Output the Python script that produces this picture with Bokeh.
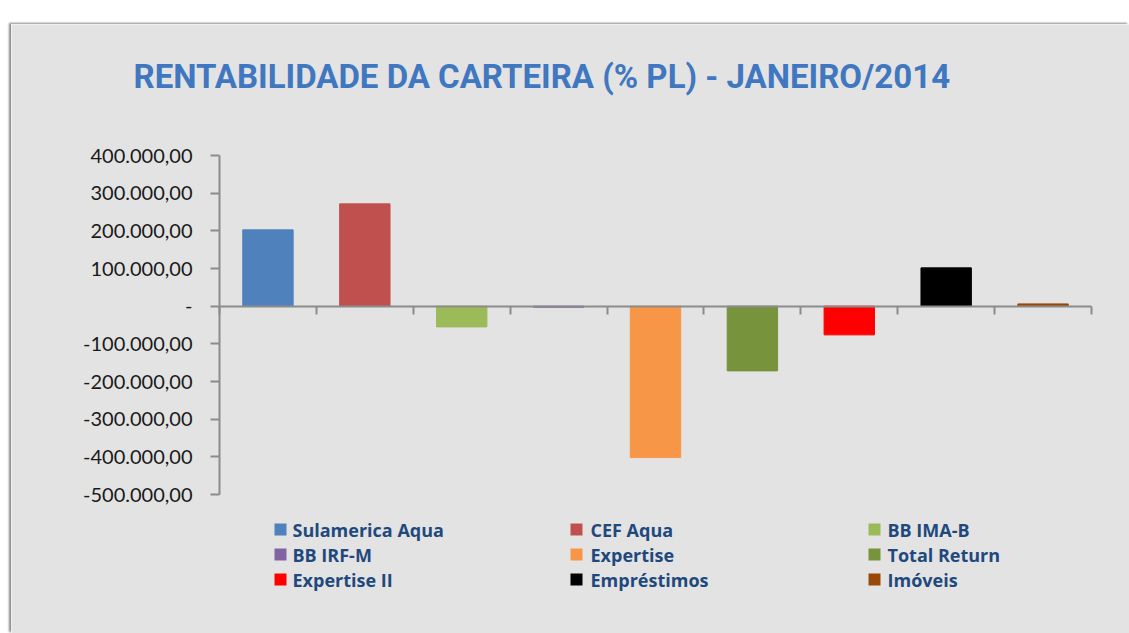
from bokeh.plotting import figure
from bokeh.models import (Range1d, LinearAxis, FixedTicker, Label, BoxAnnotation,
                          ColumnDataSource)
from bokeh.embed import file_html
from bokeh.resources import INLINE

# ---------------- data ----------------
categories = ["Sulamerica Aqua", "CEF Aqua", "BB IMA-B", "BB IRF-M", "Expertise",
              "Total Return", "Expertise II", "Empréstimos", "Imóveis"]
values = [202600, 271600, -55000, -3000, -402000, -171800, -76200, 101700, 6000]
colors = ["#4f81bd", "#c0504d", "#9bbb59", "#8064a2", "#f79646",
          "#77933c", "#ff0000", "#000000", "#984807"]
y_ticks = [400000, 300000, 200000, 100000, 0, -100000, -200000, -300000, -400000, -500000]
y_tick_labels = ["400.000,00", "300.000,00", "200.000,00", "100.000,00", "-",
                 "-100.000,00", "-200.000,00", "-300.000,00", "-400.000,00", "-500.000,00"]
title_text = "RENTABILIDADE DA CARTEIRA (% PL) - JANEIRO/2014"

BG = "#e3e3e3"
AXIS_C = "#8c8c8c"

n = len(categories)
src = ColumnDataSource(dict(x=[i + 0.5 for i in range(n)], top=values, color=colors,
                            name=categories))

# layout: frame covers whole chart box; axes are placed at fixed data locations
FW, FH = 1118, 609
px_x = 872 / n                 # pixels per category
px_y = 339 / 900000            # pixels per unit
x0 = -(219 - 11) / px_x
y1 = 400000 + (155 - 24) / px_y
p = figure(frame_width=FW, frame_height=FH,
           x_range=Range1d(x0, x0 + FW / px_x), y_range=Range1d(y1 - FH / px_y, y1),
           x_axis_type=None, y_axis_type=None,
           output_backend="svg", toolbar_location=None,
           min_border=0)
p.styles = {"margin-left": "11px", "margin-top": "24px",
            "box-shadow": "-2px -1px 2px #8a8a8a"}
p.background_fill_color = BG
p.border_fill_color = BG
p.outline_line_color = None
p.xgrid.visible = False
p.ygrid.visible = False

p.vbar(x="x", top="top", bottom=0, width=0.52, color="color", source=src)

# y axis at x = 0
yax = LinearAxis(ticker=FixedTicker(ticks=y_ticks), bounds=(min(y_ticks), max(y_ticks)),
                 fixed_location=0)
yax.major_label_overrides = {t: l for t, l in zip(y_ticks, y_tick_labels)}
yax.axis_line_color = AXIS_C
yax.axis_line_width = 2
yax.major_tick_line_color = AXIS_C
yax.major_tick_line_width = 2
yax.major_tick_out = 9
yax.major_tick_in = 0
yax.minor_tick_line_color = None
yax.major_label_standoff = 18
yax.major_label_text_font = "Lato"
yax.major_label_text_font_size = "20px"
yax.major_label_text_color = "#1a1a1a"
p.add_layout(yax, "left")

# x axis at y = 0, tick marks (minor) at category boundaries, no labels
xax = LinearAxis(ticker=FixedTicker(ticks=[], minor_ticks=list(range(n + 1))),
                 bounds=(0, n), fixed_location=0)
xax.axis_line_color = AXIS_C
xax.axis_line_width = 2
xax.minor_tick_line_color = AXIS_C
xax.minor_tick_line_width = 2
xax.minor_tick_out = 8
xax.minor_tick_in = 0
p.add_layout(xax, "below")

# title
p.add_layout(Label(x=122, y=557, x_units="screen", y_units="screen", text=title_text,
                   text_font="Roboto", text_font_style="bold", text_font_size="33px",
                   text_color="#3f77c0", text_baseline="middle", text_align="left"))

# legend (3 columns)
col_sq = [269, 565, 863]
col_tx = [281, 579, 876]
row_y = [104, 79, 54]
for i, (cat, c) in enumerate(zip(categories, colors)):
    r, k = divmod(i, 3)
    cx, cy = col_sq[k], row_y[r]
    p.add_layout(BoxAnnotation(left=cx - 6, right=cx + 6, bottom=cy - 6, top=cy + 6,
                               left_units="screen", right_units="screen",
                               bottom_units="screen", top_units="screen",
                               fill_color=c, fill_alpha=1, line_color=None))
    p.add_layout(Label(x=col_tx[k], y=cy, x_units="screen", y_units="screen", text=cat,
                       text_font="Open Sans", text_font_style="bold", text_font_size="18px",
                       text_color="#1f497d", text_baseline="middle", text_align="left"))

open("out.html", "w").write(file_html(p, INLINE))
